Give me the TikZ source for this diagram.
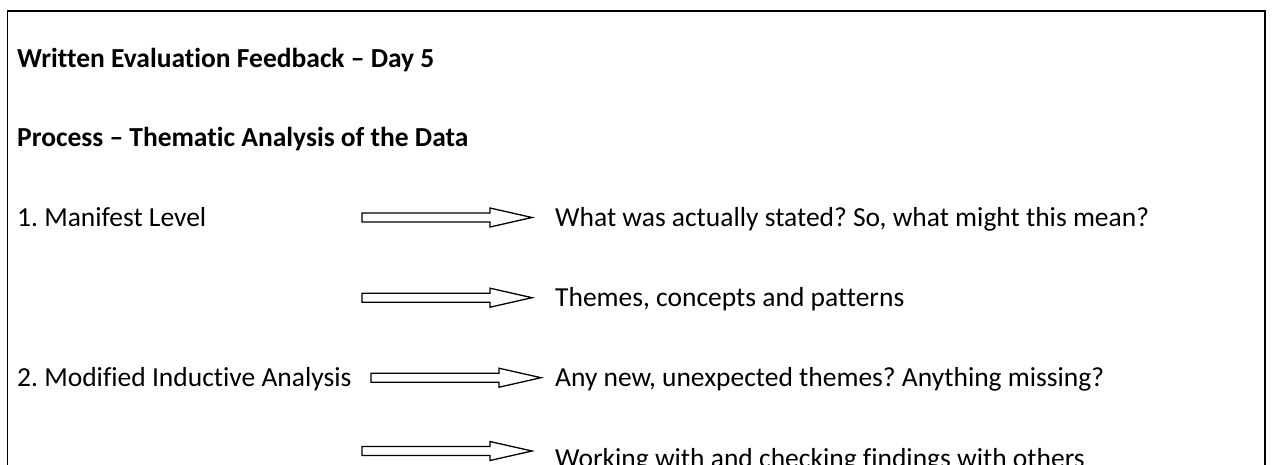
\documentclass[tikz,border=0pt]{standalone}
\usepackage{fontspec}
\setmainfont{Carlito}[Ligatures=NoCommon]
\frenchspacing
\begin{document}
\begin{tikzpicture}[x=1pt,y=-1pt,
  lbl/.style={anchor=base west,inner sep=0pt,font=\fontsize{27.5}{33}\selectfont},
  head/.style={lbl,font=\fontsize{27.5}{33}\selectfont\bfseries},
  frame/.style={draw=black,line width=1.8pt},
  blockarrow/.pic={
    \draw[line width=1.3pt,fill=white]
      (0,-4.5) -- (128,-4.5) -- (128,-9.5) -- (170,0) -- (128,9.5)
      -- (128,4.5) -- (0,4.5) -- cycle;
  }]
\useasboundingbox (0,0) rectangle (1275,464);
\clip (0,0) rectangle (1275,464);
% outer box, running past the lower edge
\draw[frame] (7.5,11) rectangle (1265,520);

% headings
\node[head] (title) at (17,67.5) {Written Evaluation Feedback – Day 5};
\node[head] (proc)  at (17,146.5) {Process – Thematic Analysis of the Data};

% left labels
\node[lbl] (manifest) at (17,226.5) {1. Manifest Level};
\node[lbl] (inductive) at (17,386.5) {2. Modified Inductive Analysis};

% right labels
\node[lbl] (r1) at (555,226.5) {What was actually stated? So, what might this mean?};
\node[lbl] (r2) at (555,306.5) {Themes, concepts and patterns};
\node[lbl] (r3) at (555,386.5) {Any new, unexpected themes? Anything missing?};
\node[lbl] (r4) at (555,467) {Working with and checking findings with others};

% block arrows
\coordinate (a1) at (362,217.5);
\coordinate (a2) at (362,297.7);
\coordinate (a3) at (371,377.7);
\coordinate (a4) at (362,451);
\pic at (a1) {blockarrow};
\pic at (a2) {blockarrow};
\pic at (a3) {blockarrow};
\pic at (a4) {blockarrow};
\end{tikzpicture}
\end{document}
